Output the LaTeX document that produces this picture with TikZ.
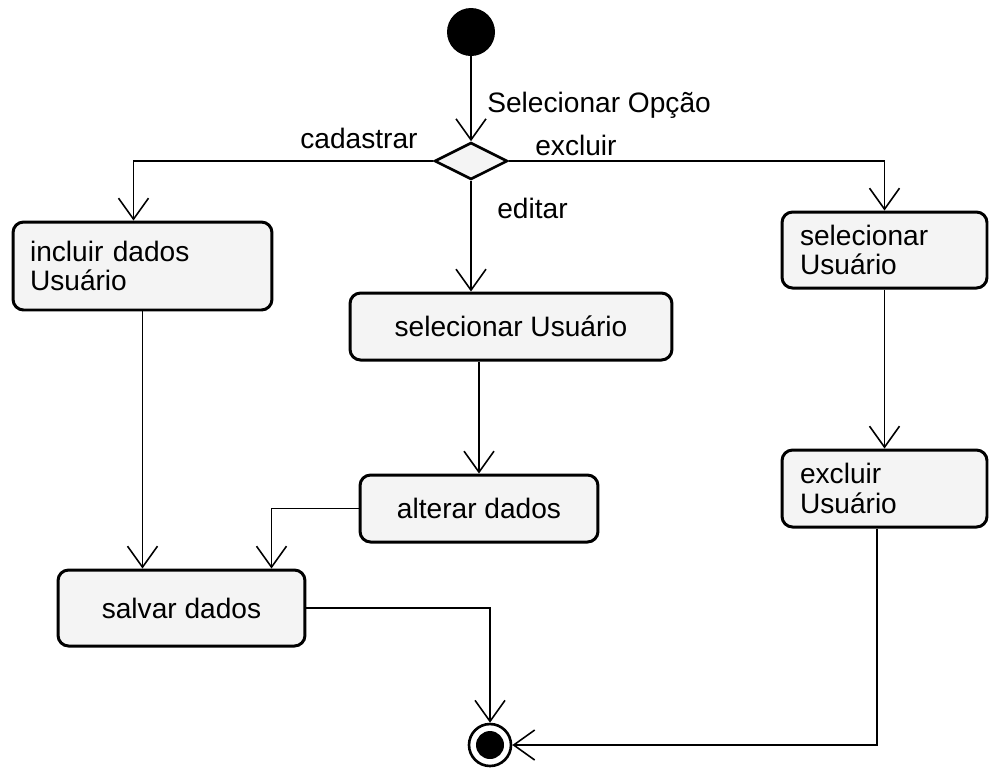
\documentclass[tikz,border=0pt]{standalone}
\usepackage{fontspec}
\setmainfont{Liberation Sans}
\usetikzlibrary{arrows.meta,positioning,shapes.geometric,calc}
\definecolor{boxfill}{RGB}{244,244,244}

\begin{document}
\begin{tikzpicture}[x=0.02cm, y=-0.02cm,
        font=\fontsize{16}{17}\selectfont,
        box/.style={rectangle, draw=black, fill=boxfill, line width=1.7pt,
                    rounded corners=6pt, inner sep=0pt},
        arrow/.style={-{Straight Barb[length=0.42cm, width=0.6cm]}, line width=0.9pt},
        lbl/.style={anchor=west, inner sep=0pt}
    ]
    \useasboundingbox (0,0) rectangle (989,769);

    \node[circle, fill=black, minimum size=0.96cm, inner sep=0pt] (inicio) at (471,32) {};
    \node[diamond, draw=black, fill=boxfill, line width=1.5pt, minimum width=1.46cm,
          minimum height=0.74cm, inner sep=0pt] (decisao) at (471,161) {};

    \node[box, minimum width=5.18cm, minimum height=1.76cm, text width=4.5cm, align=left]
        (incluir) at (142.5,266) {incluir dados\\Usuário};
    \node[box, minimum width=6.44cm, minimum height=1.34cm, align=center]
        (selMeio) at (511,326.5) {selecionar Usuário};
    \node[box, minimum width=4.1cm, minimum height=1.52cm, text width=3.38cm, align=left]
        (selDir) at (884.5,250) {selecionar\\Usuário};
    \node[box, minimum width=4.76cm, minimum height=1.34cm, align=center]
        (alterar) at (479,508.5) {alterar dados};
    \node[box, minimum width=4.1cm, minimum height=1.54cm, text width=3.38cm, align=left]
        (excluirU) at (884.5,488.5) {excluir\\Usuário};
    \node[box, minimum width=4.94cm, minimum height=1.52cm, align=center]
        (salvar) at (181.5,608) {salvar dados};

    \node[circle, draw=black, line width=1.5pt, minimum size=0.84cm, inner sep=0pt,
          path picture={\fill (path picture bounding box.center) circle (0.28cm);}]
        (fim) at (490,745) {};

    \node[lbl] (opcao) at (487,105) {Selecionar Opção};
    \node[lbl] (cadastrar) at (300,138) {cadastrar};
    \node[lbl] (excluir) at (535,145) {excluir};
    \node[lbl] (editar) at (497,208) {editar};

    \draw[arrow] (inicio) -- (decisao.north);
    \draw[arrow] (decisao.west) -| ([xshift=-0.18cm]incluir.north);
    \draw[arrow] (decisao.east) -| (selDir.north);
    \draw[arrow] (decisao.south) -- (decisao.south |- selMeio.north);
    \draw[arrow] (alterar.north |- selMeio.south) -- (alterar.north);
    \draw[arrow] (incluir.south) -- (incluir.south |- salvar.north);
    \draw[arrow] (alterar.west) -| ($(salvar.north)+(90,0)$);
    \draw[arrow] (selDir) -- (excluirU);
    \draw[arrow] ([xshift=-0.15cm]excluirU.south) |- (fim.east);
    \draw[arrow] (salvar.east) -| (fim.north);
\end{tikzpicture}
\end{document}
